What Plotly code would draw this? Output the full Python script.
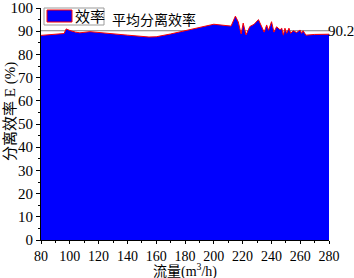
import plotly.graph_objects as go

flow = [80, 85, 90, 96, 97.5, 100, 104, 107, 114, 125, 140, 155, 160, 170, 180, 190, 200,
        212, 215, 217, 219, 220.4, 222.4, 225, 228, 231, 233, 235, 236.7, 238, 240.1, 241.8,
        243.6, 246, 247.2, 248.3, 249.4, 250.6, 252.2, 253.4, 255.2, 257.5, 259.9, 261, 262,
        264, 270, 275, 280]
eff = [88.2, 88.4, 88.6, 89.0, 91.0, 90.3, 89.6, 89.3, 89.8, 89.3, 88.3, 87.5, 87.6, 88.8,
       90.3, 91.7, 93.0, 92.2, 96.5, 94.0, 88.8, 93.5, 88.4, 92.0, 93.0, 95.0, 92.5, 89.6,
       92.7, 90.4, 94.1, 89.6, 91.9, 90.6, 91.3, 88.3, 91.3, 89.1, 91.3, 89.1, 90.2, 89.4,
       90.5, 89.1, 90.2, 88.3, 88.6, 88.7, 88.7]
avg_eff = 90.2
avg_label = "平均分离效率"
series_name = "效率"
x_title = "流量(m<sup>3</sup>/h)"
y_title = "分离效率 E (%)"
x_ticks = [80, 100, 120, 140, 160, 180, 200, 220, 240, 260, 280]
y_ticks = [0, 10, 20, 30, 40, 50, 60, 70, 80, 90, 100]

serif = "Liberation Serif, Noto Sans CJK SC"

# layout geometry (pixels)
W, H = 354, 278
L, R, T, B = 41, 25, 8, 38
PW, PH = W - L - R, H - T - B


def px(x):
    return (x - L) / PW


def py(y):
    return (H - B - y) / PH


fig = go.Figure()
fig.add_trace(go.Scatter(
    x=flow, y=eff, name=series_name, mode="lines",
    fill="tozeroy", fillcolor="#0000FF",
    line=dict(color="#FF0000", width=1),
    showlegend=False,
))

# average line and labels
fig.add_shape(type="line", x0=80, x1=280, y0=avg_eff, y1=avg_eff,
              line=dict(color="#808080", width=1), layer="below")
fig.add_annotation(x=280, y=avg_eff, text=str(avg_eff), showarrow=False,
                   xanchor="left", yanchor="middle", xshift=-3,
                   font=dict(family=serif, size=15, color="black"))
fig.add_annotation(x=px(110), y=py(20), xref="paper", yref="paper",
                   text=avg_label, showarrow=False,
                   xanchor="left", yanchor="middle",
                   font=dict(family=serif, size=14, color="black"))

# legend box (drawn)
fig.add_shape(type="rect", xref="paper", yref="paper",
              x0=px(44), x1=px(104), y0=py(25), y1=py(8),
              line=dict(color="#9a9a9a", width=1), fillcolor="white", layer="above")
fig.add_shape(type="rect", xref="paper", yref="paper",
              x0=px(47), x1=px(72), y0=py(22), y1=py(10),
              line=dict(color="#FF0000", width=1), fillcolor="#0000FF", layer="above")
fig.add_annotation(x=px(73), y=py(16.5), xref="paper", yref="paper",
                   text=series_name, showarrow=False,
                   xanchor="left", yanchor="middle",
                   font=dict(family=serif, size=15, color="black"))

# axis titles
fig.add_annotation(x=px(185), y=py(270), xref="paper", yref="paper",
                   text=x_title, showarrow=False,
                   xanchor="center", yanchor="middle",
                   font=dict(family=serif, size=14, color="black"))
fig.add_annotation(x=px(10), y=py(112), xref="paper", yref="paper",
                   text=y_title, showarrow=False, textangle=-90,
                   xanchor="center", yanchor="middle",
                   font=dict(family=serif, size=15, color="black"))

fig.update_layout(
    width=W, height=H, autosize=False,
    margin=dict(l=L, r=R, t=T, b=B, pad=0, autoexpand=False),
    paper_bgcolor="white", plot_bgcolor="white",
    showlegend=False,
    font=dict(family=serif, color="black"),
)
fig.update_xaxes(
    range=[80, 280], tickvals=x_ticks, ticktext=[str(v) for v in x_ticks],
    automargin=False,
    showline=True, linecolor="black", linewidth=1,
    ticks="outside", ticklen=3, tickcolor="black",
    minor=dict(ticks="outside", ticklen=2, dtick=10, tickcolor="black"),
    showgrid=False, zeroline=False,
    tickfont=dict(family=serif, size=14, color="black"),
)
fig.update_yaxes(
    range=[0, 100], tickvals=y_ticks, ticktext=[str(v) for v in y_ticks],
    automargin=False,
    showline=True, linecolor="black", linewidth=1,
    ticks="outside", ticklen=4, tickcolor="black",
    minor=dict(ticks="outside", ticklen=2, dtick=5, tickcolor="black"),
    showgrid=False, zeroline=False,
    tickfont=dict(family=serif, size=15, color="black"),
)

fig.write_html("out.html", config={"displayModeBar": False},
               post_script="document.body.style.margin='0px';")
